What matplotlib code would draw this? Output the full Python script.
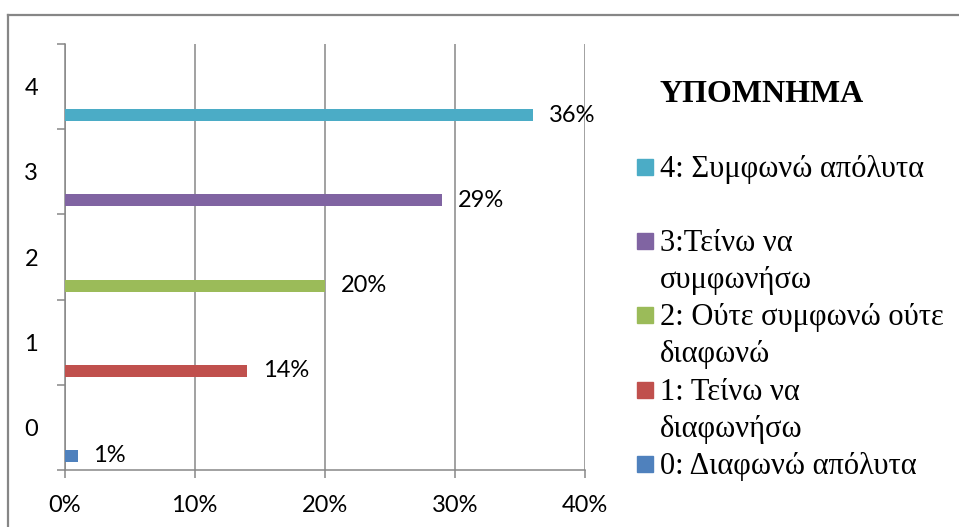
import numpy as np
import matplotlib.pyplot as plt
from matplotlib.lines import Line2D
from matplotlib.patches import Rectangle

# data
levels = [0, 1, 2, 3, 4]
shares = [0.01, 0.14, 0.20, 0.29, 0.36]
bar_colors = ['#4F81BD', '#C0504D', '#9BBB59', '#8064A2', '#4BACC6']
x_ticks = [0, 0.1, 0.2, 0.3, 0.4]
x_tick_labels = ['0%', '10%', '20%', '30%', '40%']
legend_title = 'ΥΠΟΜΝΗΜΑ'
legend_labels = ['4: Συμφωνώ απόλυτα',
                 '3:Τείνω να\nσυμφωνήσω',
                 '2: Ούτε συμφωνώ ούτε\nδιαφωνώ',
                 '1: Τείνω να\nδιαφωνήσω',
                 '0: Διαφωνώ απόλυτα']
legend_colors = bar_colors[::-1]

grey = '#878787'
W, H = 959, 527
fig = plt.figure(figsize=(W / 100, H / 100), dpi=100)
ax = fig.add_axes([64.5 / W, (H - 470) / H, (585 - 64.5) / W, (470 - 44) / H])

# bars sit in the lower part of each category band
bar_y = np.array(levels) - 0.335
ax.barh(bar_y, shares, height=0.14, color=bar_colors, zorder=3)
for y, v in zip(bar_y, shares):
    ax.annotate(f'{v:.0%}', (v, y), xytext=(11.5, 0), textcoords='offset points',
                va='center', ha='left', fontsize=17, family='Lato')

ax.set_xlim(0, 0.4)
ax.set_ylim(-0.5, 4.5)
ax.set_xticks(x_ticks)
ax.set_xticklabels(x_tick_labels, family='Lato', fontsize=17)
ax.set_yticks(np.arange(-0.5, 5, 1))
ax.set_yticklabels([])
ax.set_yticks(levels, minor=True)
ax.set_yticklabels([str(l) for l in levels], minor=True, family='Lato', fontsize=17)

ax.xaxis.grid(True, color=grey, lw=1.1, zorder=0)
ax.set_axisbelow(True)
for s in ['top', 'right']:
    ax.spines[s].set_visible(False)
for s in ['left', 'bottom']:
    ax.spines[s].set_color(grey)
    ax.spines[s].set_linewidth(1.1)
ax.tick_params(axis='x', direction='out', length=6, width=1.1, color=grey, pad=12)
ax.tick_params(axis='y', which='major', direction='out', length=6, width=1.1, color=grey)
ax.tick_params(axis='y', which='minor', length=0, pad=19)

# chart area border (only left and top visible)
fig.add_artist(Line2D([8 / W, 8 / W], [1 - 15 / H, 0], transform=fig.transFigure,
                      color='#868686', lw=1.6))
fig.add_artist(Line2D([8 / W, 1], [1 - 15 / H, 1 - 15 / H], transform=fig.transFigure,
                      color='#868686', lw=1.6))

# legend drawn by hand
fig.text(660 / W, 1 - 94 / H, legend_title, family='Liberation Serif', fontweight='bold',
         fontsize=23, va='center', ha='left')
y0 = 167
for i, (lab, c) in enumerate(zip(legend_labels, legend_colors)):
    yc = y0 + i * 74.2
    fig.add_artist(Rectangle((637 / W, 1 - (yc + 8) / H), 16 / W, 16 / H,
                             transform=fig.transFigure, color=c))
    for j, line in enumerate(lab.split('\n')):
        fig.text(660 / W, 1 - (yc + 10 + j * 37) / H, line, family='Liberation Serif',
                 fontsize=22, va='baseline', ha='left')

fig.savefig('out.png', dpi=100)
